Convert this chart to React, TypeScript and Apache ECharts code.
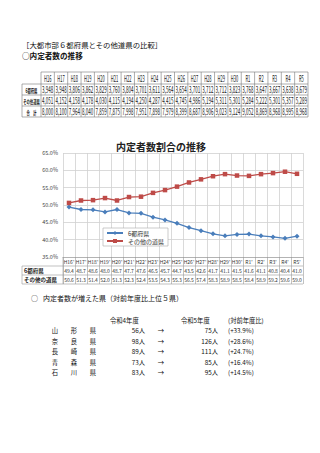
import React, { useEffect, useRef } from "react";
import * as echarts from "echarts";

const categories = ["H16","H17","H18","H19","H20","H21","H22","H23","H24","H25","H26","H27","H28","H29","H30","R1","R2","R3","R4","R5"];
const metroCounts = [3948,3948,3806,3862,3829,3760,3804,3701,3611,3564,3654,3701,3712,3712,3823,3768,3647,3667,3638,3679];
const otherCounts = [4051,4152,4158,4178,4030,4115,4194,4250,4287,4415,4745,4986,5194,5311,5301,5284,5222,5301,5357,5289];
const totalCounts = [8000,8100,7964,8040,7859,7875,7998,7951,7898,7979,8399,8687,8906,9023,9124,9052,8869,8968,8995,8968];
const countRowLabels = ["6都府県", "その他道県", "合　計"];

const metroShare = [49.4,48.7,48.6,48.0,48.7,47.7,47.6,46.5,45.7,44.7,43.5,42.6,41.7,41.1,41.5,41.6,41.1,40.8,40.4,41.0];
const otherShare = [50.6,51.3,51.4,52.0,51.3,52.3,52.4,53.5,54.3,55.3,56.5,57.4,58.3,58.9,58.5,58.4,58.9,59.2,59.6,59.0];
const seriesNames = ["6都府県", "その他の道県"];

const prefNames = ["山形県", "奈良県", "長崎県", "青森県", "石川県"];
const r4Counts = [56, 98, 89, 73, 83];
const r5Counts = [75, 126, 111, 85, 95];

const FONT = "'Noto Sans CJK JP', 'Noto Sans', sans-serif";

function buildGraphics() {
  const g: any[] = [];
  // headings
  g.push({ type: "text", x: 22, y: 44, silent: true, style: { text: "［大都市部６都府県とその他道県の比較］", font: `7.4px ${FONT}`, fill: "#111", verticalAlign: "middle" } });
  g.push({ type: "text", x: 22, y: 55, silent: true, style: { text: "○内定者数の推移", font: `bold 7.6px ${FONT}`, fill: "#111", verticalAlign: "middle" } });

  // top count table
  const tx0 = 22, tx1 = 308, labelW = 19;
  const colW = (tx1 - tx0 - labelW) / categories.length;
  const rowEdges = [72, 84, 95, 106, 117];
  const lineStyle = { stroke: "#777", lineWidth: 0.6 };
  rowEdges.forEach((y, i) => {
    g.push({ type: "line", silent: true, shape: { x1: i === 0 ? tx0 + labelW : tx0, y1: y, x2: tx1, y2: y }, style: lineStyle });
  });
  g.push({ type: "line", silent: true, shape: { x1: tx0, y1: rowEdges[1], x2: tx0, y2: rowEdges[4] }, style: lineStyle });
  for (let i = 0; i <= categories.length; i++) {
    const x = tx0 + labelW + colW * i;
    g.push({ type: "line", silent: true, shape: { x1: x, y1: rowEdges[0], x2: x, y2: rowEdges[4] }, style: lineStyle });
  }
  const rows = [metroCounts, otherCounts, totalCounts];
  categories.forEach((c, i) => {
    const cx = tx0 + labelW + colW * (i + 0.5);
    g.push({ type: "text", silent: true, x: cx, y: (rowEdges[0] + rowEdges[1]) / 2, scaleX: 0.45, style: { text: c, font: `9px ${FONT}`, fill: "#222", align: "center", verticalAlign: "middle" } });
    rows.forEach((r, k) => {
      g.push({ type: "text", silent: true, x: cx, y: (rowEdges[k + 1] + rowEdges[k + 2]) / 2, scaleX: 0.5, style: { text: r[i].toLocaleString("en-US"), font: `9px ${FONT}`, fill: "#222", align: "center", verticalAlign: "middle" } });
    });
  });
  countRowLabels.forEach((l, k) => {
    g.push({ type: "text", silent: true, x: tx0 + labelW / 2, y: (rowEdges[k + 1] + rowEdges[k + 2]) / 2, scaleX: 0.55, style: { text: l, font: `bold 6px ${FONT}`, fill: "#222", align: "center", verticalAlign: "middle" } });
  });

  // chart title
  g.push({ type: "text", silent: true, x: 161, y: 146, style: { text: "内定者数割合の推移", font: `bold 10px ${FONT}`, fill: "#222", align: "center", verticalAlign: "middle" } });

  // data table frame under chart
  const dx0 = 22, dx1 = 303, gl = 63;
  const dRows = [266, 275, 284];
  const dStyle = { stroke: "#999", lineWidth: 0.6 };
  dRows.forEach((y) => g.push({ type: "line", silent: true, shape: { x1: dx0, y1: y, x2: dx1, y2: y }, style: dStyle }));
  g.push({ type: "line", silent: true, shape: { x1: dx0, y1: 266, x2: dx0, y2: 284 }, style: dStyle });
  g.push({ type: "line", silent: true, shape: { x1: gl, y1: 257, x2: gl, y2: 284 }, style: dStyle });
  seriesNames.forEach((n, k) => {
    g.push({ type: "text", silent: true, x: dx0 + 2, y: 270.5 + 9 * k, style: { text: n, font: `bold 5.5px ${FONT}`, fill: "#222", verticalAlign: "middle" } });
  });

  // lower list
  g.push({ type: "text", silent: true, x: 31, y: 298, style: { text: "○", font: `7px ${FONT}`, fill: "#111", verticalAlign: "middle" } });
  g.push({ type: "text", silent: true, x: 43, y: 298, style: { text: "内定者数が増えた県（対前年度比上位５県）", font: `7px ${FONT}`, fill: "#111", verticalAlign: "middle" } });
  g.push({ type: "text", silent: true, x: 110, y: 320, style: { text: "令和4年度", font: `6.3px ${FONT}`, fill: "#111", verticalAlign: "middle" } });
  g.push({ type: "text", silent: true, x: 181, y: 320, style: { text: "令和5年度", font: `6.3px ${FONT}`, fill: "#111", verticalAlign: "middle" } });
  g.push({ type: "text", silent: true, x: 228, y: 320, style: { text: "(対前年度比)", font: `6.3px ${FONT}`, fill: "#111", verticalAlign: "middle" } });
  prefNames.forEach((p, i) => {
    const y = 330.5 + 10.5 * i;
    const xs = [55, 74, 93];
    p.split("").forEach((ch, j) => {
      g.push({ type: "text", silent: true, x: xs[j], y, style: { text: ch, font: `6.3px ${FONT}`, fill: "#111", align: "center", verticalAlign: "middle" } });
    });
    g.push({ type: "text", silent: true, x: 145, y, style: { text: `${r4Counts[i]}人`, font: `6.3px ${FONT}`, fill: "#111", align: "right", verticalAlign: "middle" } });
    g.push({ type: "text", silent: true, x: 161, y, style: { text: "→", font: `6.3px ${FONT}`, fill: "#111", align: "center", verticalAlign: "middle" } });
    g.push({ type: "text", silent: true, x: 218, y, style: { text: `${r5Counts[i]}人`, font: `6.3px ${FONT}`, fill: "#111", align: "right", verticalAlign: "middle" } });
    const pct = ((r5Counts[i] / r4Counts[i] - 1) * 100).toFixed(1);
    g.push({ type: "text", silent: true, x: 228, y, style: { text: `(+${pct}%)`, font: `6.3px ${FONT}`, fill: "#111", verticalAlign: "middle" } });
  });
  return g;
}

export default function App() {
  const ref = useRef<HTMLDivElement>(null);
  useEffect(() => {
    if (!ref.current) return;
    const chart = echarts.init(ref.current, null, { renderer: "svg" });
    const catLabels = categories.map((c) => `${c}'`);
    const tableAxis = (data: number[], offset: number) => ({
      type: "category",
      gridIndex: 0,
      position: "bottom",
      offset,
      data: data.map((v) => v.toFixed(1)),
      axisLine: { show: false },
      axisTick: { show: false },
      splitLine: { show: false },
      axisLabel: { interval: 0, hideOverlap: false, fontSize: 5, color: "#333", margin: 2, fontFamily: FONT },
    });
    chart.setOption({
      animation: false,
      backgroundColor: "#fff",
      textStyle: { fontFamily: FONT },
      grid: { left: 63, top: 153, width: 240, height: 104 },
      legend: {
        orient: "vertical",
        left: 103,
        top: 228,
        data: seriesNames,
        backgroundColor: "#fff",
        borderColor: "#aaa",
        borderWidth: 0.6,
        borderRadius: 0,
        padding: [2, 4, 2, 3],
        itemGap: 2,
        itemWidth: 16,
        itemHeight: 5,
        textStyle: { fontSize: 6, color: "#333", fontFamily: FONT },
      },
      xAxis: [
        {
          type: "category",
          data: catLabels,
          boundaryGap: true,
          axisLine: { show: true, lineStyle: { color: "#999", width: 0.6 } },
          axisTick: { show: true, interval: 0, length: 27, lineStyle: { color: "#999", width: 0.6 } },
          splitLine: { show: true, interval: 0, lineStyle: { color: "#d0d0d0", width: 0.8 } },
          axisLabel: { interval: 0, hideOverlap: false, fontSize: 5, color: "#333", margin: 2, fontFamily: FONT },
        },
        tableAxis(metroShare, 8.5),
        tableAxis(otherShare, 17.5),
      ],
      yAxis: {
        type: "value",
        min: 35,
        max: 65,
        interval: 5,
        axisLine: { show: false },
        axisTick: { show: false },
        splitLine: { lineStyle: { color: "#d0d0d0", width: 0.8 } },
        axisLabel: { fontSize: 5.5, color: "#444", margin: 5, formatter: (v: number) => `${v.toFixed(1)}%` },
      },
      series: [
        {
          name: seriesNames[0],
          type: "line",
          data: metroShare,
          color: "#4A7EBB",
          lineStyle: { width: 1.3 },
          symbol: "diamond",
          symbolSize: 5,
        },
        {
          name: seriesNames[1],
          type: "line",
          data: otherShare,
          color: "#BE4B48",
          lineStyle: { width: 1.3 },
          symbol: "rect",
          symbolSize: 4.5,
        },
      ],
      graphic: buildGraphics(),
    });
    return () => chart.dispose();
  }, []);
  return <div ref={ref} style={{ position: "fixed", left: 0, top: 0, width: 320, height: 453, background: "#fff" }} />;
}
